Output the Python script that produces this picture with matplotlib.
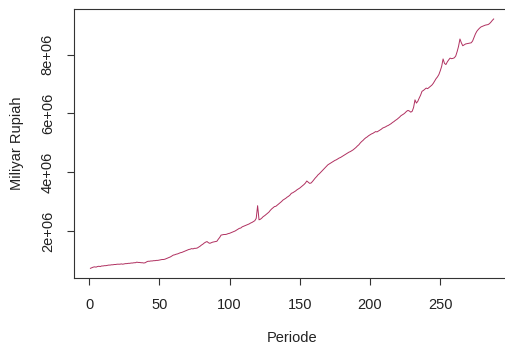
from matplotlib import pyplot as plt
import numpy as np

# values, in millions of Rupiah (miliyar), periods 1..288
VALUES_M = [
    0.73, 0.75, 0.77, 0.78, 0.77, 0.79, 0.80, 0.79, 0.81, 0.81,
    0.82, 0.82, 0.83, 0.84, 0.84, 0.85, 0.85, 0.86, 0.86, 0.87,
    0.87, 0.87, 0.88, 0.87, 0.88, 0.89, 0.89, 0.90, 0.90, 0.91,
    0.91, 0.92, 0.92, 0.94, 0.93, 0.93, 0.92, 0.92, 0.91, 0.92,
    0.95, 0.97, 0.97, 0.98, 0.98, 0.99, 0.99, 1.00, 1.00, 1.01,
    1.02, 1.03, 1.03, 1.04, 1.06, 1.08, 1.10, 1.12, 1.15, 1.18,
    1.19, 1.21, 1.22, 1.24, 1.26, 1.27, 1.29, 1.31, 1.33, 1.35,
    1.37, 1.38, 1.40, 1.39, 1.41, 1.41, 1.42, 1.45, 1.48, 1.52,
    1.55, 1.59, 1.62, 1.64, 1.60, 1.58, 1.60, 1.62, 1.63, 1.64,
    1.65, 1.72, 1.78, 1.86, 1.87, 1.88, 1.88, 1.89, 1.91, 1.92,
    1.94, 1.96, 1.98, 2.00, 2.03, 2.06, 2.09, 2.10, 2.14, 2.16,
    2.18, 2.20, 2.22, 2.24, 2.27, 2.29, 2.32, 2.35, 2.43, 2.86,
    2.38, 2.40, 2.44, 2.49, 2.52, 2.56, 2.60, 2.64, 2.70, 2.75,
    2.79, 2.83, 2.84, 2.88, 2.92, 2.96, 3.00, 3.05, 3.08, 3.11,
    3.15, 3.18, 3.22, 3.28, 3.30, 3.33, 3.36, 3.40, 3.43, 3.46,
    3.50, 3.54, 3.58, 3.63, 3.70, 3.66, 3.62, 3.63, 3.68, 3.74,
    3.80, 3.85, 3.91, 3.95, 4.00, 4.05, 4.10, 4.15, 4.20, 4.25,
    4.28, 4.31, 4.34, 4.37, 4.40, 4.42, 4.45, 4.48, 4.50, 4.53,
    4.56, 4.59, 4.62, 4.65, 4.68, 4.70, 4.73, 4.76, 4.80, 4.84,
    4.89, 4.93, 4.99, 5.04, 5.08, 5.13, 5.17, 5.20, 5.24, 5.27,
    5.30, 5.32, 5.35, 5.38, 5.37, 5.40, 5.43, 5.46, 5.50, 5.52,
    5.54, 5.57, 5.59, 5.62, 5.65, 5.69, 5.72, 5.76, 5.79, 5.83,
    5.87, 5.92, 5.95, 5.98, 6.02, 6.07, 6.10, 6.08, 6.04, 6.07,
    6.20, 6.46, 6.35, 6.41, 6.52, 6.62, 6.75, 6.78, 6.82, 6.86,
    6.84, 6.88, 6.92, 6.96, 7.02, 7.10, 7.18, 7.24, 7.32, 7.45,
    7.60, 7.85, 7.70, 7.66, 7.75, 7.82, 7.88, 7.86, 7.87, 7.89,
    7.95, 8.10, 8.28, 8.53, 8.40, 8.30, 8.33, 8.36, 8.37, 8.38,
    8.39, 8.40, 8.46, 8.58, 8.70, 8.79, 8.85, 8.90, 8.94, 8.96,
    8.98, 9.00, 9.01, 9.02, 9.05, 9.10, 9.16, 9.21,
]
X_TICKS = [0, 50, 100, 150, 200, 250]
Y_TICKS = [2e6, 4e6, 6e6, 8e6]
Y_TICK_LABELS = ["2e+06", "4e+06", "6e+06", "8e+06"]

plt.rcParams['font.family'] = ['Liberation Sans', 'DejaVu Sans']


def main():
    values = np.array(VALUES_M) * 1e6
    periods = np.arange(1, len(values) + 1)

    fig = plt.figure(figsize=(5.05, 3.49), dpi=100)
    ax = fig.add_axes([0.1471, 0.2026, 0.8624, 0.7716])
    ax.plot(periods, values, color='#B03060', linewidth=0.7)

    # R-style 4% padding on both axes
    xpad = 0.04 * (periods[-1] - periods[0])
    ax.set_xlim(periods[0] - xpad, periods[-1] + xpad)
    ypad = 0.04 * (values.max() - values.min())
    ax.set_ylim(values.min() - ypad, values.max() + ypad)

    ax.set_xticks(X_TICKS)
    ax.set_yticks(Y_TICKS)
    ax.set_yticklabels(Y_TICK_LABELS, rotation=90, va='center')
    ax.tick_params(axis='both', length=5, width=0.8, labelsize=10.5,
                   color='#333333', labelcolor='#222222')
    ax.tick_params(axis='x', pad=9)
    ax.tick_params(axis='y', pad=9)
    for s in ax.spines.values():
        s.set_color('#333333')
        s.set_linewidth(0.8)

    fig.text(292 / 505, 1 - 338 / 349, "Periode", ha='center', va='center',
             fontsize=10.5, color='#222222')
    fig.text(17 / 505, 1 - 143.6 / 349, "Miliyar Rupiah", ha='center',
             va='center', rotation=90, fontsize=10.5, color='#222222')

    fig.savefig("out.png", dpi=100)


if __name__ == "__main__":
    main()
